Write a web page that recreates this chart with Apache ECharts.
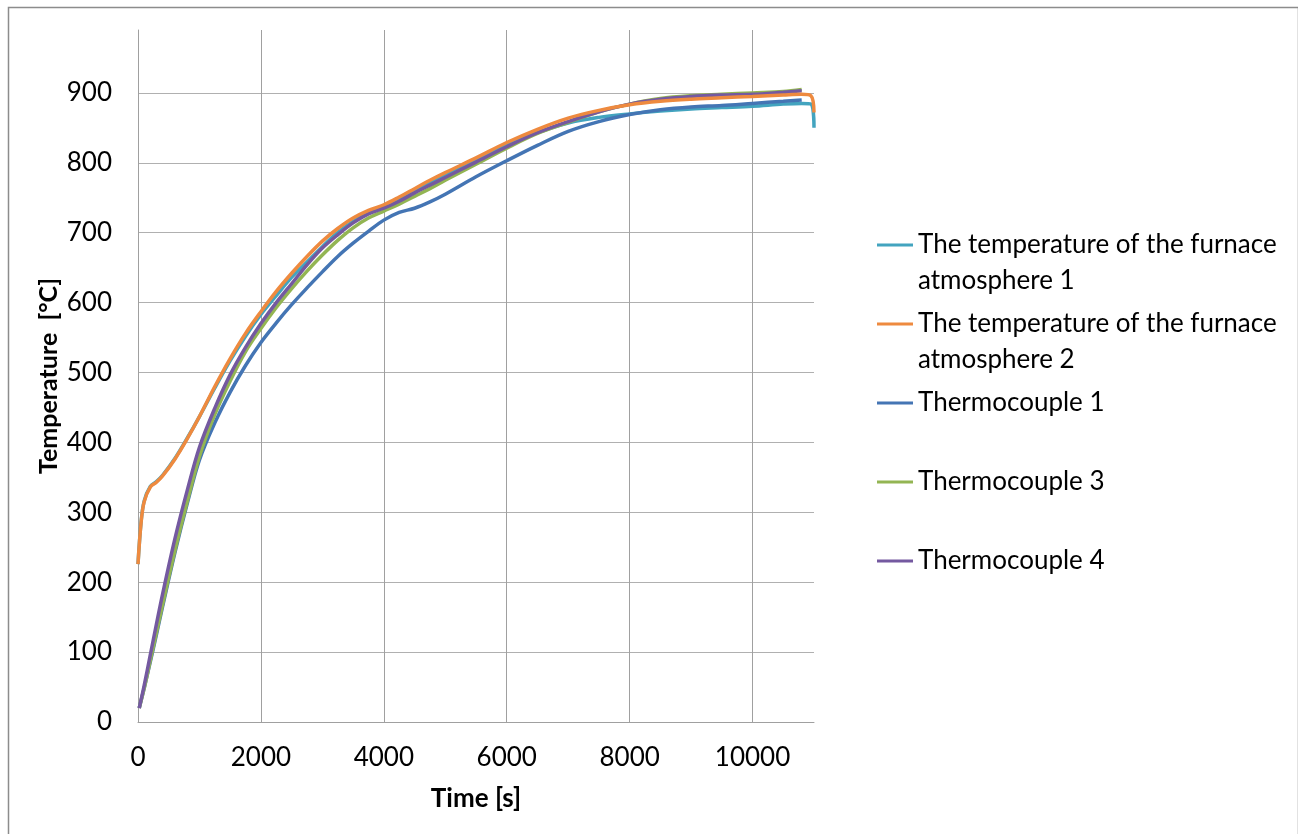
<!DOCTYPE html>
<html>
<head>
<meta charset="utf-8">
<script src="https://cdn.jsdelivr.net/npm/echarts@6/dist/echarts.min.js"></script>
<style>
html,body{margin:0;padding:0;background:#fff;}
#chart{width:1298px;height:834px;}
</style>
</head>
<body>
<div id="chart"></div>
<script>
// ---- data ----
const seriesNames = [
  'The temperature of the furnace atmosphere 1',
  'The temperature of the furnace atmosphere 2',
  'Thermocouple 1',
  'Thermocouple 3',
  'Thermocouple 4'
];
const timeFurnace = [0,50,100,200,300,400,600,800,1000,1250,1500,1750,2000,2250,2500,2750,3000,3250,3500,3750,4000,4250,4500,4750,5000,5500,6000,6500,7000,7500,8000,8500,9000,9500,10000,10500,10800,10950,11000];
const furnace1 = [226,286,316,337,344,353,377,406,437,478,517,552,583,610,636,658,680,700,716,728,737,748,760,772,783,805,825,843,857,865,870,874,877,879,881,884,885,884,850];
const furnace2 = [226,285,315,336,343,352,376,405,437,480,520,556,587,616,642,666,688,706,721,732,740,751,763,775,786,807,829,848,864,875,883,888,891,893,895,897,898,896,872];
const timeTC = [20,100,200,300,400,600,800,1000,1250,1500,1750,2000,2250,2500,2750,3000,3250,3500,3750,4000,4250,4500,4750,5000,5500,6000,6500,7000,7500,8000,8500,9000,9500,10000,10500,10800];
const thermo1 = [20,48,86,125,165,242,312,375,428,472,510,543,571,597,621,644,666,685,702,718,729,735,744,755,780,803,825,845,859,869,876,880,882,885,888,890];
const thermo3 = [20,48,88,128,168,245,315,380,440,488,530,563,593,620,645,668,689,707,721,731,741,752,763,775,798,821,842,858,873,884,892,896,898,900,902,905];
const thermo4 = [20,52,96,140,183,262,331,393,449,497,536,570,600,627,654,678,697,714,727,735,745,757,768,779,801,823,843,859,873,884,891,895,897,898,901,903];
const xTicks = {min: 0, max: 11000, interval: 2000};
const yTicks = {min: 0, max: 990, interval: 100};
const legendLabels = [
  'The temperature of the furnace\natmosphere 1',
  'The temperature of the furnace\natmosphere 2',
  'Thermocouple 1',
  'Thermocouple 3',
  'Thermocouple 4'
];

function pairs(xs, ys){ return xs.map((x,i)=>[x, ys[i]]); }

const colors = ['#43A4BF', '#EE8A3F', '#4475B4', '#93B553', '#7459A0'];
const seriesData = [
  pairs(timeFurnace, furnace1),
  pairs(timeFurnace, furnace2),
  pairs(timeTC, thermo1),
  pairs(timeTC, thermo3),
  pairs(timeTC, thermo4)
];
const zOrder = [2, 5, 3, 3.5, 4];

const FONT = 'Lato';
const chart = echarts.init(document.getElementById('chart'), null, {renderer: 'canvas'});

const legendTops = [191, 270, 385, 464, 543];
const legends = seriesNames.map((n, i) => ({
  data: [{name: n, icon: 'rect'}],
  left: 877,
  top: legendTops[i],
  padding: 0,
  orient: 'vertical',
  selectedMode: false,
  itemWidth: 36,
  itemHeight: 3,
  formatter: () => (i < 2 ? '\n' : '') + legendLabels[i],
  textStyle: {fontFamily: FONT, fontSize: 26, color: '#000', lineHeight: 36}
}));

chart.setOption({
  backgroundColor: '#fff',
  animation: false,
  color: colors,
  graphic: [{
    type: 'rect', left: 6, top: 5,
    shape: {x: 0, y: 0, width: 1290, height: 840},
    style: {fill: 'none', stroke: '#8c8c8c', lineWidth: 1.5},
    silent: true, z: -1
  }],
  grid: {left: 138, top: 30, right: 484, bottom: 112, containLabel: false},
  legend: legends,
  xAxis: {
    type: 'value', min: xTicks.min, max: xTicks.max, interval: xTicks.interval,
    name: 'Time [s]', nameLocation: 'middle', nameGap: 64, nameMoveOverlap: false,
    nameTextStyle: {fontFamily: FONT, fontSize: 26, fontWeight: 'bold', color: '#000'},
    axisLine: {show: true, lineStyle: {color: '#a0a0a0', width: 1}},
    axisTick: {show: false},
    axisLabel: {fontFamily: FONT, fontSize: 26, color: '#000', margin: 23, showMaxLabel: false,
      formatter: v => String(v)},
    splitLine: {show: true, showMaxLine: false, lineStyle: {color: '#a0a0a0', width: 1}}
  },
  yAxis: {
    type: 'value', min: yTicks.min, max: yTicks.max, interval: yTicks.interval,
    name: 'Temperature  [°C]', nameLocation: 'middle', nameGap: 77, nameRotate: 90,
    nameMoveOverlap: false,
    nameTextStyle: {fontFamily: FONT, fontSize: 25, fontWeight: 'bold', color: '#000'},
    axisLine: {show: true, lineStyle: {color: '#a0a0a0', width: 1}},
    axisTick: {show: false},
    axisLabel: {fontFamily: FONT, fontSize: 26, color: '#000', margin: 26, showMaxLabel: false,
      formatter: v => String(v)},
    splitLine: {show: true, showMaxLine: false, lineStyle: {color: '#b0b0b0', width: 1}}
  },
  series: seriesNames.map((n, i) => ({
    name: n,
    type: 'line',
    data: seriesData[i],
    smooth: 0.35,
    showSymbol: false,
    symbol: 'none',
    z: zOrder[i],
    lineStyle: {width: 3.5, color: colors[i]},
    itemStyle: {color: colors[i]}
  }))
});
</script>
</body>
</html>
